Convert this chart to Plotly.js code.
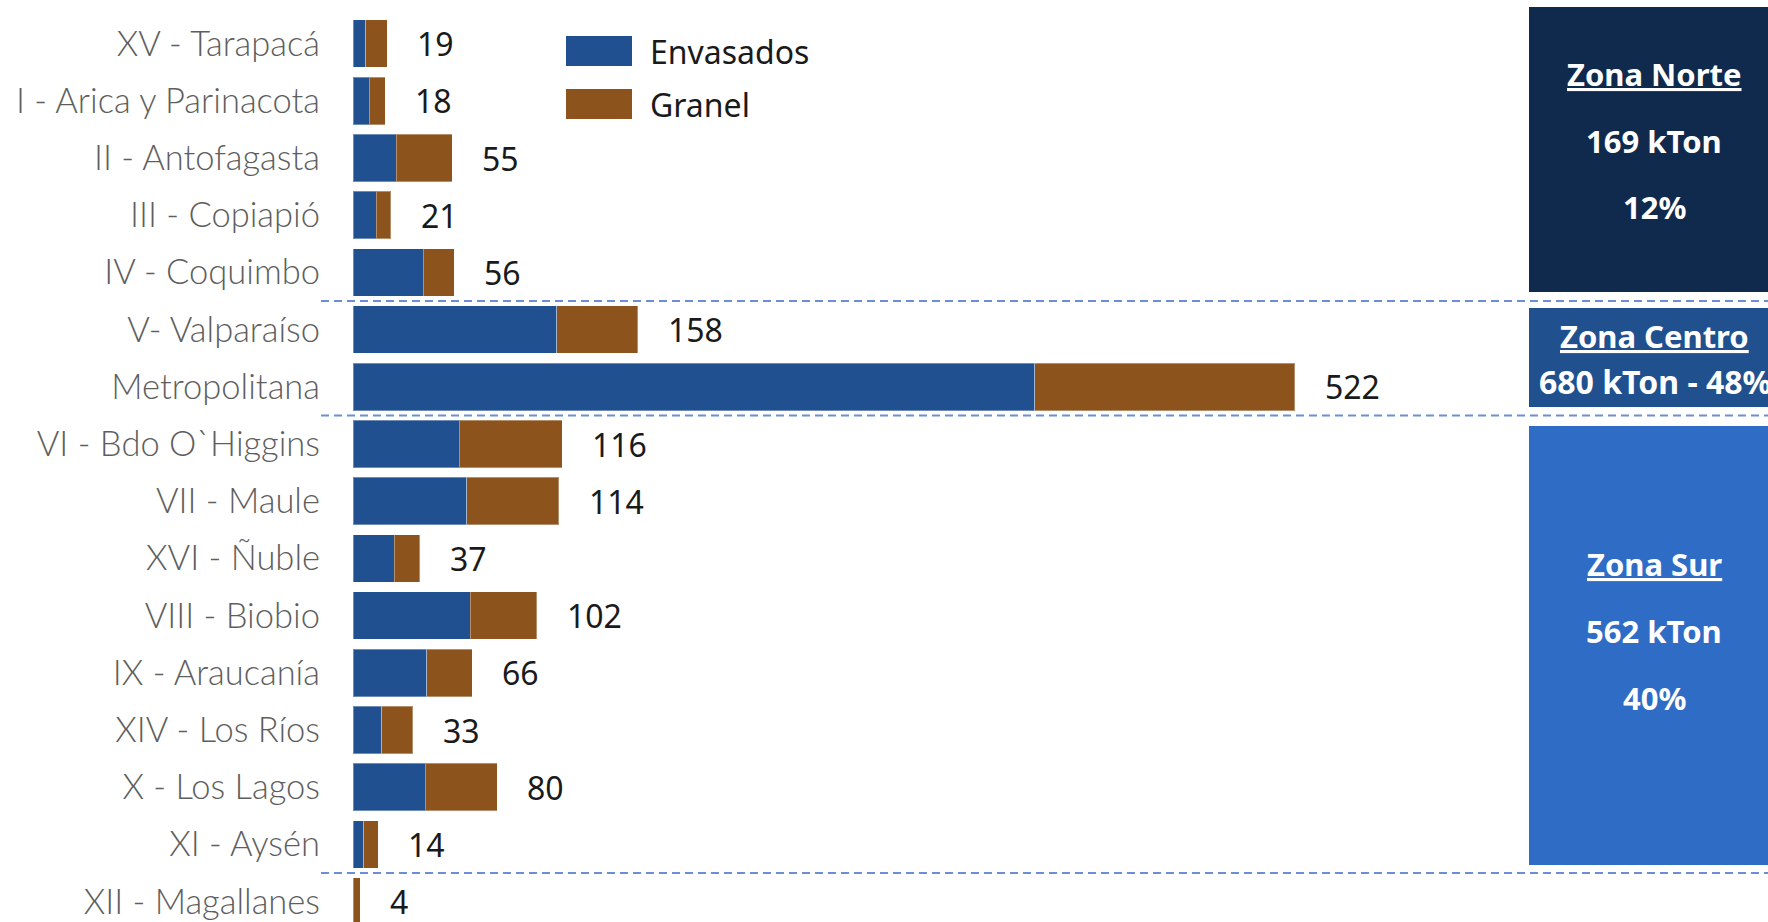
<!DOCTYPE html>
<html>
<head>
<meta charset="utf-8">
<script src="https://cdn.plot.ly/plotly-3.0.1.min.js"></script>
<style>html,body{margin:0;padding:0;background:#fff;}#chart{width:1768px;height:922px;}</style>
</head>
<body>
<div id="chart"></div>
<script>
const regions = ["XV - Tarapacá", "I - Arica y Parinacota", "II - Antofagasta", "III - Copiapió", "IV - Coquimbo",
  "V- Valparaíso", "Metropolitana", "VI - Bdo O`Higgins", "VII - Maule", "XVI - Ñuble", "VIII - Biobio",
  "IX - Araucanía", "XIV - Los Ríos", "X - Los Lagos", "XI - Aysén", "XII - Magallanes"];
const envasados = [7, 9, 24, 13, 39, 113, 378, 59, 63, 23, 65, 41, 16, 40, 6, 0];
const granel    = [12, 9, 31, 8, 17, 45, 144, 57, 51, 14, 37, 25, 17, 40, 8, 4];
const totals    = [19, 18, 55, 21, 56, 158, 522, 116, 114, 37, 102, 66, 33, 80, 14, 4];
const seriesNames = ["Envasados", "Granel"];
const zoneNames = ["Zona Norte", "Zona Centro", "Zona Sur"];
const zoneKton = [169, 680, 562];
const zonePct = [12, 48, 40];

const W = 1768, H = 922, ML = 353, MT = 15, MB = 0, MR = 0;
const PW = W - ML - MR, PH = H - MT - MB;
const px = x => (x - ML) / PW;
const py = y => 1 - (y - MT) / PH;

const cBlue = "#20508f", cBrown = "#8c531d";
const font = "Noto Sans, Open Sans, sans-serif";

const traces = [
  {type: "bar", orientation: "h", name: seriesNames[0], y: regions, x: envasados,
   marker: {color: cBlue, line: {color: "rgba(255,255,255,0.35)", width: 1}}, hoverinfo: "x+y+name"},
  {type: "bar", orientation: "h", name: seriesNames[1], y: regions, x: granel,
   marker: {color: cBrown, line: {color: "rgba(255,255,255,0.35)", width: 1}}, hoverinfo: "x+y+name"}
];

const annotations = [];
const shapes = [];

// value labels
regions.forEach((r, i) => {
  annotations.push({x: totals[i], y: r, xref: "x", yref: "y", text: String(totals[i]),
    showarrow: false, xanchor: "left", yanchor: "middle", xshift: 28,
    font: {family: font, size: 32, color: "#1a1a1a"}});
});

// dashed separators
[4.5, 6.5, 14.5].forEach(yv => {
  shapes.push({type: "line", xref: "paper", yref: "y", x0: px(321), x1: 1.0, y0: yv, y1: yv,
    line: {color: "#6d8dd6", width: 2, dash: "8px,5px"}, layer: "above"});
});

// zone boxes
const zoneBoxes = [
  {y0: 7, y1: 292, color: "#102a4d"},
  {y0: 308, y1: 407, color: "#21508f"},
  {y0: 426, y1: 865, color: "#2f6cc6"}
];
zoneBoxes.forEach(b => {
  shapes.push({type: "rect", xref: "paper", yref: "paper", x0: px(1529), x1: 1.05,
    y0: py(b.y1), y1: py(b.y0), fillcolor: b.color, line: {width: 0}, layer: "above"});
});

const zf = {family: font, size: 31, color: "#ffffff"};
const zx = px(1654);
// Norte
annotations.push({xref: "paper", yref: "paper", x: zx, y: py(74), text: "<b><u>" + zoneNames[0] + "</u></b>", showarrow: false, font: zf, xanchor: "center", yanchor: "middle"});
annotations.push({xref: "paper", yref: "paper", x: zx, y: py(141), text: "<b>" + zoneKton[0] + " kTon</b>", showarrow: false, font: zf, xanchor: "center", yanchor: "middle"});
annotations.push({xref: "paper", yref: "paper", x: zx, y: py(207), text: "<b>" + zonePct[0] + "%</b>", showarrow: false, font: zf, xanchor: "center", yanchor: "middle"});
// Centro
annotations.push({xref: "paper", yref: "paper", x: zx, y: py(336), text: "<b><u>" + zoneNames[1] + "</u></b>", showarrow: false, font: zf, xanchor: "center", yanchor: "middle"});
annotations.push({xref: "paper", yref: "paper", x: px(1537), y: py(381), text: "<b>" + zoneKton[1] + " kTon - " + zonePct[1] + "%</b>", showarrow: false, font: {family: font, size: 32, color: "#ffffff"}, xanchor: "left", yanchor: "middle"});
// Sur
annotations.push({xref: "paper", yref: "paper", x: zx, y: py(564), text: "<b><u>" + zoneNames[2] + "</u></b>", showarrow: false, font: zf, xanchor: "center", yanchor: "middle"});
annotations.push({xref: "paper", yref: "paper", x: zx, y: py(631), text: "<b>" + zoneKton[2] + " kTon</b>", showarrow: false, font: zf, xanchor: "center", yanchor: "middle"});
annotations.push({xref: "paper", yref: "paper", x: zx, y: py(698), text: "<b>" + zonePct[2] + "%</b>", showarrow: false, font: zf, xanchor: "center", yanchor: "middle"});

// manual legend
[[36, 66, cBlue, 52], [89, 119, cBrown, 104]].forEach((l, i) => {
  shapes.push({type: "rect", xref: "paper", yref: "paper", x0: px(566), x1: px(632), y0: py(l[1]), y1: py(l[0]),
    fillcolor: l[2], line: {width: 0}});
  annotations.push({xref: "paper", yref: "paper", x: px(648), y: py(l[3]), text: seriesNames[i], showarrow: false,
    xanchor: "left", yanchor: "middle", font: {family: font, size: 32, color: "#1a1a1a"}});
});

const slot = 57.2;
const yTop = -0.5;
const yBot = yTop + PH / slot;
const xMax = PW / 1.8037;

const layout = {
  width: W, height: H,
  margin: {l: ML, r: MR, t: MT, b: MB, pad: 0},
  barmode: "stack", bargap: 0.17,
  showlegend: false,
  paper_bgcolor: "#ffffff", plot_bgcolor: "#ffffff",
  xaxis: {range: [0, xMax], showgrid: false, zeroline: false, showticklabels: false, showline: false, ticks: "", fixedrange: true},
  yaxis: {type: "category", range: [yBot, yTop], showgrid: false, zeroline: false, showline: false, ticks: "",
    ticklabelstandoff: 32, tickfont: {family: "Lato, Noto Sans, sans-serif", weight: 300, size: 34.5, color: "#5e5e5e"}, automargin: false, fixedrange: true},
  shapes: shapes,
  annotations: annotations
};

Plotly.newPlot("chart", traces, layout, {displayModeBar: false, staticPlot: true});
</script>
</body>
</html>
